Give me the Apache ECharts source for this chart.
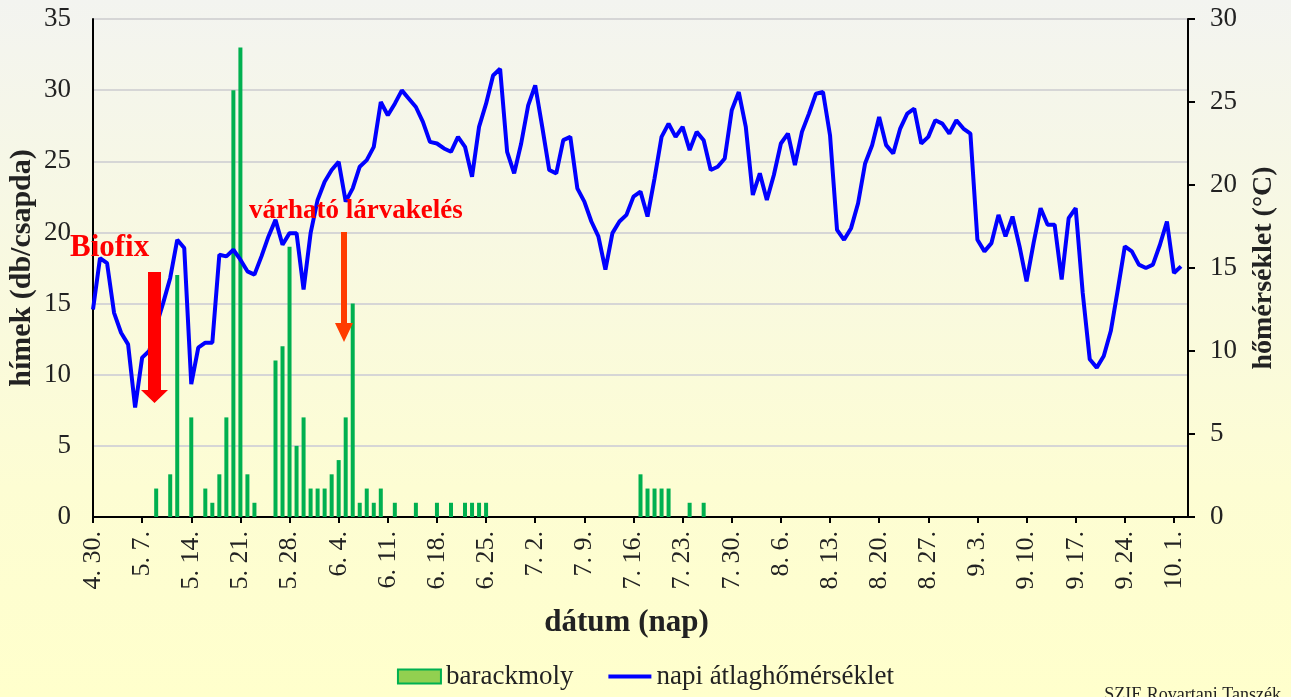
<!DOCTYPE html>
<html>
<head>
<meta charset="utf-8">
<title>barackmoly</title>
<script src="https://cdn.jsdelivr.net/npm/echarts@6.0.0/dist/echarts.min.js"></script>
<style>
    html, body { margin: 0; padding: 0; }
    #charts { width: 1291px; height: 697px; }
</style>
</head>
<body>
<div id="charts"></div>
<script>
// napok: 4.30-tol 157 nap (az utolso ures)
var days = [];
for (var i = 0; i < 157; i++) {
    var dt = new Date(2010, 3, 30 + i);
    days.push((dt.getMonth() + 1) + '. ' + dt.getDate() + '.');
}

// barackmoly fogasok (db/csapda)
var mothDates = ['5. 9.', '5. 11.', '5. 12.', '5. 14.', '5. 16.', '5. 17.', '5. 18.', '5. 19.', '5. 20.', '5. 21.',
    '5. 22.', '5. 23.', '5. 26.', '5. 27.', '5. 28.', '5. 29.', '5. 30.', '5. 31.', '6. 1.', '6. 2.',
    '6. 3.', '6. 4.', '6. 5.', '6. 6.', '6. 7.', '6. 8.', '6. 9.', '6. 10.', '6. 12.', '6. 15.',
    '6. 18.', '6. 20.', '6. 22.', '6. 23.', '6. 24.', '6. 25.', '7. 17.', '7. 18.', '7. 19.', '7. 20.',
    '7. 21.', '7. 24.', '7. 26.'];
var mothCounts = [2, 3, 17, 7, 2, 1, 3, 7, 30, 33,
    3, 1, 11, 12, 19, 5, 7, 2, 2, 2,
    3, 4, 7, 15, 1, 2, 1, 2, 1, 1,
    1, 1, 1, 1, 1, 1, 3, 2, 2, 2,
    2, 1, 1];

// napi atlaghomerseklet (°C), 4.30 - 10.2.
var temps = [
    12.5, 15.6, 15.3, 12.3, 11.1, 10.4, 6.6, 9.6, 10.0, 11.5,
    12.9, 14.4, 16.7, 16.2, 8.0, 10.2, 10.5, 10.5, 15.8, 15.7,
    16.1, 15.5, 14.8, 14.6, 15.7, 16.9, 17.9, 16.4, 17.1, 17.1,
    13.7, 17.1, 19.1, 20.2, 20.9, 21.4, 19.0, 19.8, 21.1, 21.5,
    22.3, 25.0, 24.2, 24.9, 25.7, 25.2, 24.7, 23.8, 22.6, 22.5,
    22.2, 22.0, 22.9, 22.3, 20.5, 23.5, 24.9, 26.6, 27.0, 22.0,
    20.7, 22.5, 24.8, 26.0, 23.5, 20.9, 20.7, 22.7, 22.9, 19.8,
    19.0, 17.8, 16.9, 14.9, 17.1, 17.8, 18.2, 19.3, 19.6, 18.1,
    20.4, 22.9, 23.7, 22.9, 23.5, 22.1, 23.2, 22.7, 20.9, 21.1,
    21.6, 24.5, 25.6, 23.5, 19.4, 20.7, 19.1, 20.6, 22.5, 23.1,
    21.2, 23.2, 24.3, 25.5, 25.6, 23.0, 17.3, 16.7, 17.4, 18.9,
    21.3, 22.4, 24.1, 22.4, 21.9, 23.4, 24.3, 24.6, 22.5, 22.9,
    23.9, 23.7, 23.1, 23.9, 23.4, 23.1, 16.7, 16.0, 16.5, 18.2,
    16.9, 18.1, 16.3, 14.2, 16.5, 18.6, 17.6, 17.6, 14.3, 18.0,
    18.6, 13.5, 9.5, 9.0, 9.7, 11.2, 13.7, 16.3, 16.0, 15.2,
    15.0, 15.2, 16.4, 17.8, 14.7, 15.1
];

var leftTicks = [0, 35, 5];
var rightTicks = [0, 30, 5];

function initChart() {
    var myChart = echarts.init(document.getElementById('charts'));
    var serif = 'Liberation Serif, Times New Roman, serif';

    var mothData = days.map(function () { return null; });
    mothDates.forEach(function (d, i) {
        mothData[days.indexOf(d)] = mothCounts[i];
    });

    var option = {
        animation: false,
        backgroundColor: {
            type: 'linear', x: 0, y: 0, x2: 0, y2: 1,
            colorStops: [
                {offset: 0, color: '#f3f4f0'},
                {offset: 0.7, color: '#fdfdd3'},
                {offset: 1, color: '#ffffcc'}
            ]
        },
        textStyle: {fontFamily: serif, color: '#222'},
        grid: {left: 93, right: 103, top: 19, bottom: 180, outerBoundsMode: 'none'},
        legend: {
            bottom: 2,
            left: 'center',
            itemWidth: 43,
            itemHeight: 14,
            itemGap: 33,
            textStyle: {fontFamily: serif, fontSize: 27, color: '#222'},
            data: [
                {name: 'barackmoly', icon: 'rect',
                    itemStyle: {color: '#92d050', borderColor: '#00b050', borderWidth: 2}},
                {name: 'napi átlaghőmérséklet',
                    itemStyle: {opacity: 0},
                    lineStyle: {width: 4, color: '#0000ff'}}
            ]
        },
        xAxis: {
            type: 'category',
            data: days,
            boundaryGap: false,
            name: 'dátum (nap)',
            nameLocation: 'middle',
            nameGap: 90,
            nameTextStyle: {fontFamily: serif, fontSize: 31, fontWeight: 'bold', color: '#222',
                padding: [0, 28, 0, 0]},
            axisLine: {lineStyle: {color: '#000', width: 2}},
            axisTick: {interval: 6, length: 6, lineStyle: {color: '#000', width: 2}},
            axisLabel: {interval: 6, rotate: 90, fontSize: 26, margin: 14, color: '#222'},
            splitLine: {show: false}
        },
        yAxis: [
            {
                type: 'value',
                min: leftTicks[0], max: leftTicks[1], interval: leftTicks[2],
                name: 'hímek (db/csapda)',
                nameLocation: 'middle',
                nameRotate: 90,
                nameGap: 56,
                nameMoveOverlap: false,
                nameTextStyle: {fontFamily: serif, fontSize: 30, fontWeight: 'bold', color: '#222'},
                axisLine: {show: true, lineStyle: {color: '#000', width: 2}},
                axisTick: {show: false},
                axisLabel: {fontSize: 27, margin: 22, color: '#222'},
                splitLine: {lineStyle: {color: '#d6d6d6', width: 2}}
            },
            {
                type: 'value',
                min: rightTicks[0], max: rightTicks[1], interval: rightTicks[2],
                name: 'hőmérséklet (°C)',
                nameLocation: 'middle',
                nameRotate: 90,
                nameGap: 62,
                nameTextStyle: {fontFamily: serif, fontSize: 28, fontWeight: 'bold', color: '#222'},
                axisLine: {show: true, lineStyle: {color: '#000', width: 2}},
                axisTick: {show: true, length: 7, lineStyle: {color: '#000', width: 2}},
                axisLabel: {fontSize: 27, margin: 22, color: '#222'},
                splitLine: {show: false}
            }
        ],
        series: [
            {
                name: 'barackmoly',
                type: 'bar',
                yAxisIndex: 0,
                barWidth: 4,
                itemStyle: {color: '#00b050'},
                data: mothData
            },
            {
                name: 'napi átlaghőmérséklet',
                type: 'line',
                yAxisIndex: 1,
                symbol: 'none',
                lineStyle: {color: '#0000ff', width: 4},
                itemStyle: {color: '#0000ff'},
                data: temps
            }
        ],
        graphic: [
            {
                type: 'text', z: 100, left: 70, top: 232,
                style: {text: 'Biofix', fill: '#ff0000', font: 'bold 31px ' + serif}
            },
            {
                type: 'polygon', z: 100,
                shape: {points: [[148, 272], [161, 272], [161, 390], [168, 390], [154.5, 403], [141, 390], [148, 390]]},
                style: {fill: '#ff0000'}
            },
            {
                type: 'text', z: 100, left: 249, top: 198,
                style: {text: 'várható lárvakelés', fill: '#ff0000', font: 'bold 27px ' + serif}
            },
            {
                type: 'polygon', z: 100,
                shape: {points: [[341, 232], [347, 232], [347, 323], [353, 323], [344, 342], [335, 323], [341, 323]]},
                style: {fill: '#ff3c00'}
            },
            {
                type: 'text', z: 100, right: 10, top: 686,
                style: {text: 'SZIE Rovartani Tanszék', fill: '#222', font: '18px ' + serif}
            }
        ]
    };
    myChart.setOption(option);
}
initChart();
</script>
</body>
</html>
